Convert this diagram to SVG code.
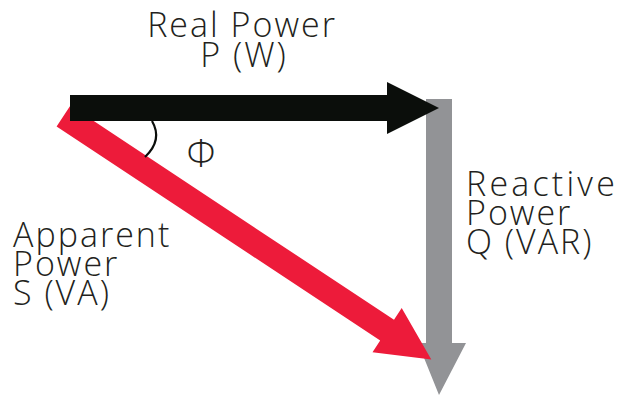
<svg xmlns="http://www.w3.org/2000/svg" width="623" height="398" viewBox="0 0 623 398">
<style>
.lbl{font-family:"Open Sans",Roboto,"Liberation Sans",sans-serif;font-weight:300;font-size:34px;fill:#231f20;letter-spacing:2px}
.wide{letter-spacing:3.2px}
</style>
<rect width="623" height="398" fill="#fff"/>
<g id="connectors">
<g id="reactive-arrow"><polygon points="426,99 452,99 452,343 466,343 439,395 418,343 426,343" fill="#929396"/></g>
<g id="apparent-arrow"><polygon points="70.4,105.6 394,319.8 401.7,308.1 431.3,359.4 372.5,352.3 380.2,340.6 56.6,126.4" fill="#ed1b3a"/></g>
<g id="real-arrow"><polygon points="70,95 387,95 387,82 439,108 387,134 387,121 70,121" fill="#0b0e0b"/></g>
<path id="angle-arc" d="M152,121 Q163,140 145,157" fill="none" stroke="#0b0e0b" stroke-width="2.2"/>
</g>
<g id="real-power"><text class="lbl" x="242" y="37" text-anchor="middle">Real Power</text><text class="lbl" x="244" y="67" text-anchor="middle">P (W)</text></g>
<g id="apparent-power"><text class="lbl" x="13" y="247">Apparent</text><text class="lbl" x="13" y="276">Power</text><text class="lbl" x="13" y="305">S (VA)</text></g>
<g id="reactive-power"><text class="lbl wide" x="466" y="196">Reactive</text><text class="lbl" x="466" y="225">Power</text><text class="lbl" x="466" y="254">Q (VAR)</text></g>
<g id="phi"><text class="lbl" x="201" y="167" text-anchor="middle" style="font-size:38px;letter-spacing:0">Φ</text></g>
</svg>
